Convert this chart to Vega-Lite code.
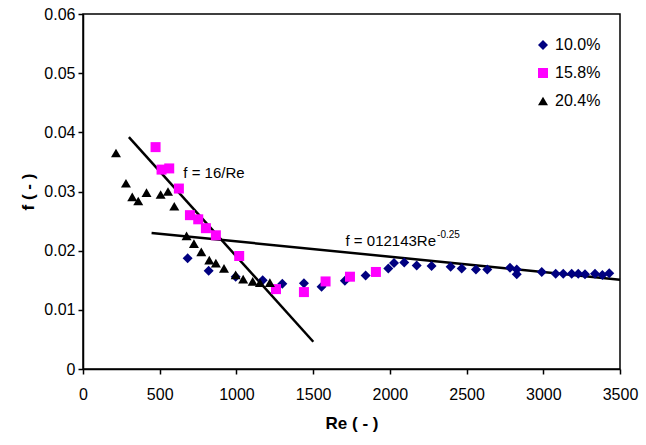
{
  "$schema": "https://vega.github.io/schema/vega-lite/v6.json",
  "autosize": {"type": "none"},
  "width": 537,
  "height": 355,
  "padding": {"left": 83, "top": 14, "right": 26, "bottom": 76},
  "background": "white",
  "config": {
    "font": "Liberation Sans",
    "view": {"stroke": "black", "strokeWidth": 1.5},
    "axis": {
      "grid": false,
      "domainColor": "black",
      "domainWidth": 1.5,
      "tickColor": "black",
      "tickWidth": 1.5,
      "tickSize": 5,
      "labelColor": "black",
      "labelFont": "Liberation Sans",
      "labelFontSize": 16,
      "titleFont": "Liberation Sans",
      "titleFontSize": 17,
      "titleFontWeight": "bold",
      "titleColor": "black"
    }
  },
  "datasets": {
    "points": [
      {"series": "10.0%", "Re": 682, "f": 0.0187},
      {"series": "10.0%", "Re": 819, "f": 0.0166},
      {"series": "10.0%", "Re": 995, "f": 0.0156},
      {"series": "10.0%", "Re": 1171, "f": 0.0150},
      {"series": "10.0%", "Re": 1299, "f": 0.0144},
      {"series": "10.0%", "Re": 1440, "f": 0.0145},
      {"series": "10.0%", "Re": 1555, "f": 0.0139},
      {"series": "10.0%", "Re": 1707, "f": 0.0149},
      {"series": "10.0%", "Re": 1842, "f": 0.0158},
      {"series": "10.0%", "Re": 1990, "f": 0.0170},
      {"series": "10.0%", "Re": 2027, "f": 0.0179},
      {"series": "10.0%", "Re": 2094, "f": 0.0180},
      {"series": "10.0%", "Re": 2175, "f": 0.0175},
      {"series": "10.0%", "Re": 2272, "f": 0.0174},
      {"series": "10.0%", "Re": 2396, "f": 0.0173},
      {"series": "10.0%", "Re": 2468, "f": 0.0170},
      {"series": "10.0%", "Re": 2561, "f": 0.0168},
      {"series": "10.0%", "Re": 2635, "f": 0.0168},
      {"series": "10.0%", "Re": 2783, "f": 0.0171},
      {"series": "10.0%", "Re": 2827, "f": 0.0168},
      {"series": "10.0%", "Re": 2827, "f": 0.0160},
      {"series": "10.0%", "Re": 2990, "f": 0.0164},
      {"series": "10.0%", "Re": 3081, "f": 0.0161},
      {"series": "10.0%", "Re": 3130, "f": 0.0161},
      {"series": "10.0%", "Re": 3185, "f": 0.0161},
      {"series": "10.0%", "Re": 3228, "f": 0.0161},
      {"series": "10.0%", "Re": 3272, "f": 0.0160},
      {"series": "10.0%", "Re": 3337, "f": 0.0161},
      {"series": "10.0%", "Re": 3385, "f": 0.0159},
      {"series": "10.0%", "Re": 3430, "f": 0.0162},
      {"series": "15.8%", "Re": 473, "f": 0.0375},
      {"series": "15.8%", "Re": 512, "f": 0.0337},
      {"series": "15.8%", "Re": 562, "f": 0.0339},
      {"series": "15.8%", "Re": 625, "f": 0.0305},
      {"series": "15.8%", "Re": 697, "f": 0.0260},
      {"series": "15.8%", "Re": 751, "f": 0.0253},
      {"series": "15.8%", "Re": 801, "f": 0.0238},
      {"series": "15.8%", "Re": 866, "f": 0.0226},
      {"series": "15.8%", "Re": 1018, "f": 0.0191},
      {"series": "15.8%", "Re": 1258, "f": 0.0135},
      {"series": "15.8%", "Re": 1440, "f": 0.0130},
      {"series": "15.8%", "Re": 1581, "f": 0.0148},
      {"series": "15.8%", "Re": 1740, "f": 0.0156},
      {"series": "15.8%", "Re": 1909, "f": 0.0164},
      {"series": "20.4%", "Re": 215, "f": 0.0365},
      {"series": "20.4%", "Re": 280, "f": 0.0314},
      {"series": "20.4%", "Re": 321, "f": 0.0291},
      {"series": "20.4%", "Re": 360, "f": 0.0284},
      {"series": "20.4%", "Re": 414, "f": 0.0298},
      {"series": "20.4%", "Re": 506, "f": 0.0295},
      {"series": "20.4%", "Re": 554, "f": 0.0300},
      {"series": "20.4%", "Re": 595, "f": 0.0275},
      {"series": "20.4%", "Re": 675, "f": 0.0225},
      {"series": "20.4%", "Re": 723, "f": 0.0212},
      {"series": "20.4%", "Re": 771, "f": 0.0198},
      {"series": "20.4%", "Re": 823, "f": 0.0184},
      {"series": "20.4%", "Re": 866, "f": 0.0179},
      {"series": "20.4%", "Re": 919, "f": 0.0170},
      {"series": "20.4%", "Re": 995, "f": 0.0159},
      {"series": "20.4%", "Re": 1044, "f": 0.0152},
      {"series": "20.4%", "Re": 1106, "f": 0.0148},
      {"series": "20.4%", "Re": 1153, "f": 0.0146},
      {"series": "20.4%", "Re": 1218, "f": 0.0146}
    ],
    "lines": [
      {"line": "laminar", "Re": 299, "f": 0.0392},
      {"line": "laminar", "Re": 1501, "f": 0.0046},
      {"line": "turbulent", "Re": 447, "f": 0.0230},
      {"line": "turbulent", "Re": 3500, "f": 0.0151}
    ],
    "labels": [
      {"Re": 654, "f": 0.0331, "text": "f = 16/Re", "kind": "main", "align": "left"},
      {"Re": 2301, "f": 0.0217, "text": "f = 012143Re", "kind": "main", "align": "right"},
      {"Re": 2308, "f": 0.02265, "text": "-0.25", "kind": "sup", "align": "left"}
    ]
  },
  "layer": [
    {
      "data": {"name": "lines"},
      "mark": {"type": "line", "color": "black", "strokeWidth": 2.5},
      "encoding": {
        "x": {"field": "Re", "type": "quantitative"},
        "y": {"field": "f", "type": "quantitative"},
        "detail": {"field": "line"}
      }
    },
    {
      "data": {"name": "points"},
      "mark": {"type": "point", "filled": true, "opacity": 1},
      "encoding": {
        "x": {
          "field": "Re", "type": "quantitative",
          "scale": {"domain": [0, 3500], "nice": false},
          "axis": {"values": [0, 500, 1000, 1500, 2000, 2500, 3000, 3500], "format": "d", "title": "Re ( - )", "labelPadding": 12, "titlePadding": 13, "labelFlush": false}
        },
        "y": {
          "field": "f", "type": "quantitative",
          "scale": {"domain": [0, 0.06], "nice": false},
          "axis": {"values": [0, 0.01, 0.02, 0.03, 0.04, 0.05, 0.06], "format": "~g", "title": "f ( - )", "labelPadding": 3, "titlePadding": 6, "labelFlush": false}
        },
        "color": {
          "field": "series", "type": "nominal",
          "scale": {"domain": ["10.0%", "15.8%", "20.4%"], "range": ["#000080", "#FF00FF", "#000000"]},
          "legend": {
            "title": null, "orient": "none", "legendX": 452, "legendY": 23,
            "labelFontSize": 16, "labelFont": "Liberation Sans", "labelColor": "black",
            "rowPadding": 12, "labelOffset": 4
          }
        },
        "shape": {
          "field": "series", "type": "nominal",
          "scale": {"domain": ["10.0%", "15.8%", "20.4%"], "range": ["diamond", "square", "triangle-up"]}
        },
        "size": {
          "field": "series", "type": "nominal",
          "scale": {"domain": ["10.0%", "15.8%", "20.4%"], "range": [100, 100, 130]}
        }
      }
    },
    {
      "data": {"name": "labels"},
      "transform": [{"filter": "datum.kind == 'main' && datum.align == 'left'"}],
      "mark": {"type": "text", "align": "left", "baseline": "middle", "fontSize": 15, "font": "Liberation Sans", "color": "black"},
      "encoding": {
        "x": {"field": "Re", "type": "quantitative"},
        "y": {"field": "f", "type": "quantitative"},
        "text": {"field": "text"}
      }
    },
    {
      "data": {"name": "labels"},
      "transform": [{"filter": "datum.kind == 'main' && datum.align == 'right'"}],
      "mark": {"type": "text", "align": "right", "baseline": "middle", "fontSize": 15, "font": "Liberation Sans", "color": "black"},
      "encoding": {
        "x": {"field": "Re", "type": "quantitative"},
        "y": {"field": "f", "type": "quantitative"},
        "text": {"field": "text"}
      }
    },
    {
      "data": {"name": "labels"},
      "transform": [{"filter": "datum.kind == 'sup'"}],
      "mark": {"type": "text", "align": "left", "baseline": "middle", "fontSize": 10, "font": "Liberation Sans", "color": "black"},
      "encoding": {
        "x": {"field": "Re", "type": "quantitative"},
        "y": {"field": "f", "type": "quantitative"},
        "text": {"field": "text"}
      }
    }
  ]
}
